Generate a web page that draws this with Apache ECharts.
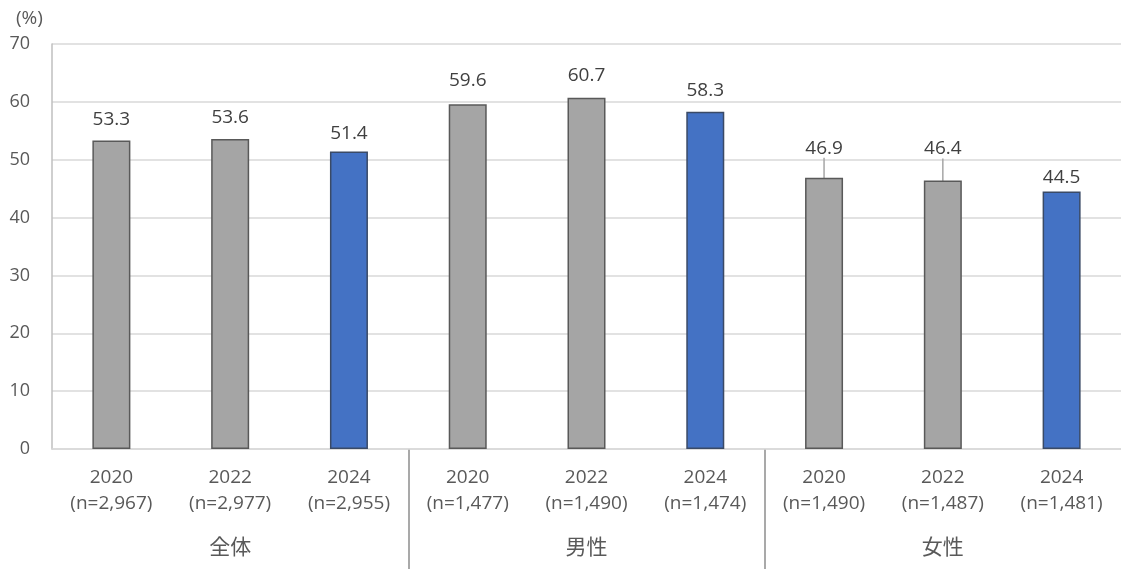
<!DOCTYPE html>
<html>
<head>
<meta charset="utf-8">
<script src="https://cdn.jsdelivr.net/npm/echarts@6/dist/echarts.min.js"></script>
<style>
html,body{margin:0;padding:0;background:#fff;}
#chart{width:1121px;height:569px;}
</style>
</head>
<body>
<div id="chart"></div>
<script>
var years = ['2020', '2022', '2024', '2020', '2022', '2024', '2020', '2022', '2024'];
var sampleSizes = ['n=2,967', 'n=2,977', 'n=2,955', 'n=1,477', 'n=1,490', 'n=1,474', 'n=1,490', 'n=1,487', 'n=1,481'];
var groups = ['全体', '男性', '女性'];
var values = [53.3, 53.6, 51.4, 59.6, 60.7, 58.3, 46.9, 46.4, 44.5];
var highlightYear = '2024';
var yTicks = [0, 10, 20, 30, 40, 50, 60, 70];

// label nudges (style only): vertical shift in px per bar; leader lines where moved up a lot
var labelShift = [0, 0, 3, -2, -1, 0, -8, -10, 8];

var categories = years.map(function (y, i) { return y + '\n(' + sampleSizes[i] + ')'; });
var FONT = '"Open Sans", "Noto Sans CJK JP", sans-serif';
var CJK = '"Noto Sans CJK JP", sans-serif';

var chart = echarts.init(document.getElementById('chart'), null, {renderer: 'canvas'});
chart.setOption({
  animation: false,
  backgroundColor: '#ffffff',
  title: {
    text: '(%)', left: 11, top: 4,
    textStyle: {fontSize: 19, fontWeight: 'normal', color: '#595959', fontFamily: FONT}
  },
  grid: [
    {left: 52, right: -2, top: 44, bottom: 120, containLabel: false},
    {left: 52, right: -2, top: 449, bottom: 0, containLabel: false}
  ],
  xAxis: [
    {
      type: 'category', gridIndex: 0, data: categories,
      axisLine: {show: true, lineStyle: {color: '#d9d9d9', width: 1.5}},
      axisTick: {show: false},
      axisLabel: {color: '#595959', fontSize: 19, lineHeight: 26, margin: 16, fontFamily: FONT, interval: 0}
    },
    {
      type: 'category', gridIndex: 1, data: groups,
      axisLine: {show: false}, axisTick: {show: false},
      axisLabel: {inside: true, color: '#595959', fontSize: 21, margin: 12, fontFamily: CJK},
      splitLine: {show: true, showMinLine: false, showMaxLine: false, lineStyle: {color: '#8c8c8c', width: 1.5}}
    }
  ],
  yAxis: [
    {
      type: 'value', gridIndex: 0, min: 0, max: 70, interval: 10,
      axisLine: {show: true, lineStyle: {color: '#bfbfbf', width: 1.5}},
      axisTick: {show: false},
      axisLabel: {color: '#595959', fontSize: 18, margin: 22, fontFamily: FONT,
        formatter: function (v) { return yTicks.indexOf(v) >= 0 ? String(v) : ''; }},
      splitLine: {show: true, lineStyle: {color: '#d9d9d9', width: 1.5}}
    },
    {type: 'value', gridIndex: 1, show: false}
  ],
  series: [{
    type: 'bar', xAxisIndex: 0, yAxisIndex: 0,
    barWidth: 38,
    data: values.map(function (v, i) {
      var blue = years[i] === highlightYear;
      return {
        value: v,
        itemStyle: {color: blue ? '#4472c4' : '#a5a5a5', borderColor: blue ? '#3a4a66' : '#595959', borderWidth: 1.5},
        labelLine: {show: labelShift[i] <= -5}
      };
    }),
    label: {
      show: true, position: 'top', distance: 12, color: '#404040', fontSize: 19, fontFamily: FONT,
      formatter: function (p) { return p.value.toFixed(1); }
    },
    labelLine: {show: false, lineStyle: {color: '#a6a6a6', width: 1.5}},
    labelLayout: function (p) {
      return {dy: labelShift[p.dataIndex]};
    }
  }]
});
</script>
</body>
</html>
